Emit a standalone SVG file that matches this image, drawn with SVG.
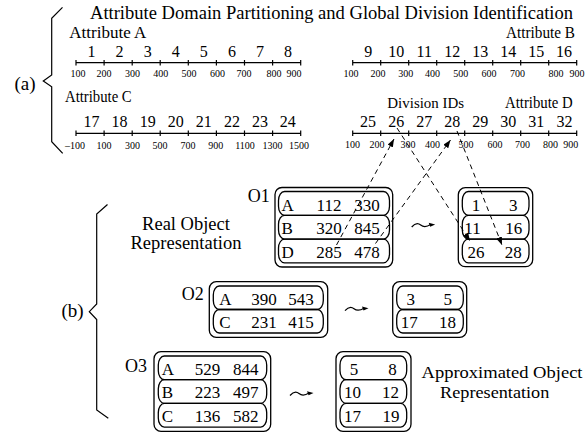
<svg xmlns="http://www.w3.org/2000/svg" width="585" height="432" viewBox="0 0 585 432">
<defs>
<style>
text{font-family:"Liberation Serif","Times New Roman",serif;fill:#000}
.t{font-size:18.5px}
.lab{font-size:16px}
.num{font-size:16px;text-anchor:middle}
.tk{font-size:10px;text-anchor:middle}
.cell{font-size:17px}
.cm{font-size:17px;text-anchor:middle}
.big{font-size:18.5px;text-anchor:middle}
.ax{stroke:#000;stroke-width:1.2;fill:none}
.box{stroke:#000;stroke-width:1.3;fill:none}
.brace{stroke:#000;stroke-width:1.2;fill:none}
.dash{stroke:#000;stroke-width:1;fill:none;stroke-dasharray:5,4}
.sq{stroke:#000;stroke-width:1.2;fill:none}
</style>
<marker id="ah" markerWidth="8" markerHeight="6" refX="8" refY="3" orient="auto" markerUnits="userSpaceOnUse">
<path d="M0,0 L8,3 L0,6 z" fill="#000"/>
</marker>
<g id="sqg">
<path class="sq" d="M0,4.5 C3,1 6,0 9,2.5 C12,5 15,4.5 19,2"/>
<path d="M17,0.3 L23.5,2 L18.5,4.2 z" fill="#000"/>
</g>
</defs>

<!-- Part (a) -->
<g id="partA">
<path class="brace" d="M62.5,7.3 L51.7,18.3 L51.7,75 L43.3,81 L51.7,86.7 L51.7,141.7 L62.7,153.3"/>
<text x="25" y="90" style="font-size:19px;text-anchor:middle">(a)</text>
<text class="t" x="90" y="19.3" textLength="483" lengthAdjust="spacingAndGlyphs">Attribute Domain Partitioning and Global Division Identification</text>
</g>

<g id="axisA">
<text class="lab" x="69.3" y="38" textLength="77" lengthAdjust="spacingAndGlyphs">Attribute A</text>
<path class="ax" d="M76,62.7 H300.7 M76,60 V65.4 M104.1,60 V65.4 M132.2,60 V65.4 M160.2,60 V65.4 M188.3,60 V65.4 M216.4,60 V65.4 M244.5,60 V65.4 M272.6,60 V65.4 M300.7,60 V65.4"/>
<text class="num" x="91.5" y="57.3">1</text>
<text class="num" x="119.6" y="57.3">2</text>
<text class="num" x="147.7" y="57.3">3</text>
<text class="num" x="175.8" y="57.3">4</text>
<text class="num" x="203.8" y="57.3">5</text>
<text class="num" x="231.9" y="57.3">6</text>
<text class="num" x="260" y="57.3">7</text>
<text class="num" x="288.1" y="57.3">8</text>
<text class="tk" x="78" y="77">100</text>
<text class="tk" x="104" y="77">200</text>
<text class="tk" x="132.5" y="77">300</text>
<text class="tk" x="160.8" y="77">400</text>
<text class="tk" x="189" y="77">500</text>
<text class="tk" x="217.5" y="77">600</text>
<text class="tk" x="244" y="77">700</text>
<text class="tk" x="274" y="77">800</text>
<text class="tk" x="294" y="77">900</text>
</g>

<g id="axisB">
<text class="lab" x="575" y="37.5" style="text-anchor:end" textLength="69" lengthAdjust="spacingAndGlyphs">Attribute B</text>
<path class="ax" d="M352.7,62.7 H576.7 M352.7,60 V65.4 M380.7,60 V65.4 M408.7,60 V65.4 M436.7,60 V65.4 M464.7,60 V65.4 M492.7,60 V65.4 M520.7,60 V65.4 M548.7,60 V65.4 M576.7,60 V65.4"/>
<text class="num" x="368.2" y="57.3">9</text>
<text class="num" x="396.2" y="57.3">10</text>
<text class="num" x="424.2" y="57.3">11</text>
<text class="num" x="452.2" y="57.3">12</text>
<text class="num" x="480.2" y="57.3">13</text>
<text class="num" x="508.2" y="57.3">14</text>
<text class="num" x="536.2" y="57.3">15</text>
<text class="num" x="564" y="57.3">16</text>
<text class="tk" x="351" y="76.5">100</text>
<text class="tk" x="378" y="76.5">200</text>
<text class="tk" x="405.8" y="76.5">300</text>
<text class="tk" x="432.5" y="76.5">400</text>
<text class="tk" x="460.7" y="76.5">500</text>
<text class="tk" x="489" y="76.5">600</text>
<text class="tk" x="517.5" y="76.5">700</text>
<text class="tk" x="556" y="76.5">800</text>
<text class="tk" x="577" y="76.5">900</text>
</g>

<g id="axisC">
<text class="lab" x="65" y="101.5" textLength="66.7" lengthAdjust="spacingAndGlyphs">Attribute C</text>
<path class="ax" d="M76,133.3 H300.7 M76,130.6 V136 M104.1,130.6 V136 M132.2,130.6 V136 M160.2,130.6 V136 M188.3,130.6 V136 M216.4,130.6 V136 M244.5,130.6 V136 M272.6,130.6 V136 M300.7,130.6 V136"/>
<text class="num" x="91.5" y="127.3">17</text>
<text class="num" x="119.6" y="127.3">18</text>
<text class="num" x="147.7" y="127.3">19</text>
<text class="num" x="175.8" y="127.3">20</text>
<text class="num" x="203.8" y="127.3">21</text>
<text class="num" x="231.9" y="127.3">22</text>
<text class="num" x="260" y="127.3">23</text>
<text class="num" x="287.8" y="127.3">24</text>
<text class="tk" x="75" y="149">–100</text>
<text class="tk" x="104" y="149">100</text>
<text class="tk" x="132.5" y="149">300</text>
<text class="tk" x="160" y="149">500</text>
<text class="tk" x="188" y="149">700</text>
<text class="tk" x="215.7" y="149">900</text>
<text class="tk" x="245" y="149">1100</text>
<text class="tk" x="272.5" y="149">1300</text>
<text class="tk" x="299" y="149">1500</text>
</g>

<g id="axisD">
<text x="425.7" y="108" style="font-size:15px;text-anchor:middle" textLength="76.7" lengthAdjust="spacingAndGlyphs">Division IDs</text>
<text class="lab" x="572.7" y="108" style="text-anchor:end" textLength="67.7" lengthAdjust="spacingAndGlyphs">Attribute D</text>
<path class="ax" d="M352.7,133.3 H576.7 M352.7,130.6 V136 M380.7,130.6 V136 M408.7,130.6 V136 M436.7,130.6 V136 M464.7,130.6 V136 M492.7,130.6 V136 M520.7,130.6 V136 M548.7,130.6 V136 M576.7,130.6 V136"/>
<text class="num" x="368" y="127.3">25</text>
<text class="num" x="396.2" y="127.3">26</text>
<text class="num" x="424.2" y="127.3">27</text>
<text class="num" x="452.2" y="127.3">28</text>
<text class="num" x="480.2" y="127.3">29</text>
<text class="num" x="508.2" y="127.3">30</text>
<text class="num" x="536.2" y="127.3">31</text>
<text class="num" x="564.5" y="127.3">32</text>
<text class="tk" x="352.5" y="148.3">100</text>
<text class="tk" x="377" y="148.3">200</text>
<text class="tk" x="408" y="148.3">300</text>
<text class="tk" x="432.5" y="148.3">400</text>
<text class="tk" x="466" y="148.3">500</text>
<text class="tk" x="495" y="148.3">600</text>
<text class="tk" x="522.5" y="148.3">700</text>
<text class="tk" x="550.5" y="148.3">800</text>
<text class="tk" x="570.7" y="148.3">900</text>
</g>

<!-- Part (b) -->
<g id="partB">
<path class="brace" d="M107.5,204.5 L96.7,214 L96.7,304 L89.3,311.7 L96.7,319.5 L96.7,410 L108.3,418.3"/>
<text x="72.5" y="317" style="font-size:19px;text-anchor:middle">(b)</text>
<text class="big" x="186" y="230">Real Object</text>
<text class="big" x="186" y="249.3">Representation</text>
<text x="502" y="378" style="font-size:16.5px;text-anchor:middle" textLength="161" lengthAdjust="spacingAndGlyphs">Approximated Object</text>
<text x="494.7" y="398" style="font-size:16.5px;text-anchor:middle" textLength="109.3" lengthAdjust="spacingAndGlyphs">Representation</text>
</g>

<g id="O1">
<text x="247.7" y="201.7" style="font-size:18px">O1</text>
<rect class="box" x="275" y="187.5" width="117.7" height="79.5" rx="7"/>
<rect class="box" x="278.5" y="191.5" width="111" height="23.8" rx="6" ry="9"/>
<rect class="box" x="278.5" y="215.3" width="111" height="23.8" rx="6" ry="9"/>
<rect class="box" x="278.5" y="239.1" width="111" height="23.8" rx="6" ry="9"/>
<text class="cell" x="281.5" y="210.5">A</text>
<text class="cm" x="329" y="210.5">112</text>
<text class="cm" x="367" y="210.5">330</text>
<text class="cell" x="281.5" y="234">B</text>
<text class="cm" x="329" y="234">320</text>
<text class="cm" x="367" y="234">845</text>
<text class="cell" x="281.5" y="258">D</text>
<text class="cm" x="329" y="258">285</text>
<text class="cm" x="367" y="258">478</text>
</g>

<g id="O1approx">
<rect class="box" x="458.3" y="187.7" width="74.4" height="79" rx="7"/>
<rect class="box" x="462.3" y="191.5" width="66.7" height="23.8" rx="6" ry="9"/>
<rect class="box" x="462.3" y="215.3" width="66.7" height="23.8" rx="6" ry="9"/>
<rect class="box" x="462.3" y="239.1" width="66.7" height="23.8" rx="6" ry="9"/>
<text class="cm" x="476" y="210.5">1</text>
<text class="cm" x="513.3" y="210.5">3</text>
<text class="cm" x="472.5" y="234">11</text>
<text class="cm" x="513.7" y="234">16</text>
<text class="cm" x="476" y="258">26</text>
<text class="cm" x="513.3" y="258">28</text>
</g>

<g id="O2">
<text x="181.7" y="300" style="font-size:18px">O2</text>
<rect class="box" x="209.3" y="281.7" width="118.4" height="55.6" rx="7"/>
<rect class="box" x="213.3" y="286" width="110" height="23.5" rx="6" ry="9"/>
<rect class="box" x="213.3" y="309.5" width="110" height="23.5" rx="6" ry="9"/>
<text class="cell" x="219.3" y="305">A</text>
<text class="cm" x="264" y="305">390</text>
<text class="cm" x="301" y="305">543</text>
<text class="cell" x="219.3" y="328.3">C</text>
<text class="cm" x="264" y="328.3">231</text>
<text class="cm" x="301" y="328.3">415</text>
</g>

<g id="O2approx">
<rect class="box" x="392.7" y="281.7" width="74" height="55.6" rx="7"/>
<rect class="box" x="396.7" y="286" width="66.6" height="23.5" rx="6" ry="9"/>
<rect class="box" x="396.7" y="309.5" width="66.6" height="23.5" rx="6" ry="9"/>
<text class="cm" x="410.8" y="305">3</text>
<text class="cm" x="447.8" y="305">5</text>
<text class="cm" x="409.2" y="328.3">17</text>
<text class="cm" x="447.5" y="328.3">18</text>
</g>

<g id="O3">
<text x="125" y="371.7" style="font-size:18px">O3</text>
<rect class="box" x="154" y="351.7" width="116.7" height="79.6" rx="7"/>
<rect class="box" x="158.3" y="356" width="108.4" height="23.7" rx="6" ry="9"/>
<rect class="box" x="158.3" y="379.7" width="108.4" height="23.7" rx="6" ry="9"/>
<rect class="box" x="158.3" y="403.4" width="108.4" height="23.7" rx="6" ry="9"/>
<text class="cell" x="161.7" y="375">A</text>
<text class="cm" x="207.5" y="375">529</text>
<text class="cm" x="245.8" y="375">844</text>
<text class="cell" x="161.7" y="398.3">B</text>
<text class="cm" x="207.5" y="398.3">223</text>
<text class="cm" x="245.8" y="398.3">497</text>
<text class="cell" x="161.7" y="421.7">C</text>
<text class="cm" x="207.5" y="421.7">136</text>
<text class="cm" x="245.8" y="421.7">582</text>
</g>

<g id="O3approx">
<rect class="box" x="336" y="351.7" width="75" height="79.6" rx="7"/>
<rect class="box" x="340" y="356" width="66.7" height="23.7" rx="6" ry="9"/>
<rect class="box" x="340" y="379.7" width="66.7" height="23.7" rx="6" ry="9"/>
<rect class="box" x="340" y="403.4" width="66.7" height="23.7" rx="6" ry="9"/>
<text class="cm" x="354" y="375">5</text>
<text class="cm" x="392.5" y="375">8</text>
<text class="cm" x="352.5" y="398.3">10</text>
<text class="cm" x="390.5" y="398.3">12</text>
<text class="cm" x="352.5" y="421.7">17</text>
<text class="cm" x="391" y="421.7">19</text>
</g>

<g id="connectors">
<path class="dash" d="M336.5,245 L394,139" marker-end="url(#ah)"/>
<path class="dash" d="M375.5,243.5 L450.5,140" marker-end="url(#ah)"/>
<path class="dash" d="M397,128 L470,241" marker-end="url(#ah)"/>
<path class="dash" d="M457,131 L502,245" marker-end="url(#ah)"/>
<use href="#sqg" x="411.7" y="222.5"/>
<use href="#sqg" x="345" y="306.2"/>
<use href="#sqg" x="290" y="391"/>
</g>
</svg>
